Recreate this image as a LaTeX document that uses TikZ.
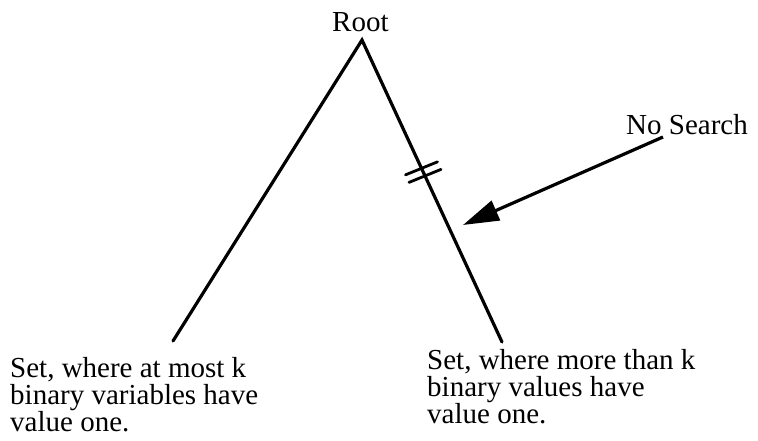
\documentclass[tikz,border=0pt]{standalone}
\usepackage{fontspec}
\setmainfont{Liberation Serif}
\usetikzlibrary{arrows.meta}
\usetikzlibrary{calc}
\tikzset{
	branch/.style = {
		line width=3.2pt,
		line cap=round
	},
	cutmark/.style = {
		line width=2.8pt,
		line cap=round
	},
	pointer/.style = {
		line width=3.2pt,
		-{Triangle[length=36pt,width=21pt]}
	},
	caption/.style = {
		align=left,
		inner sep=0pt,
		font=\fontsize{29}{27}\selectfont
	},
	label_s/.style = {
		inner sep=0pt,
		anchor=base west,
		font=\fontsize{29}{27}\selectfont
	},
}

\begin{document}
\begin{tikzpicture}[x=1pt,y=-1pt]
\useasboundingbox (0,0) rectangle (758,441);
\node [label_s] (root) at (332,32) {Root};
\coordinate (apex) at (362,40);
\coordinate (leafl) at (173,341);
\coordinate (leafr) at (502,342);
\draw [branch] (leafl) -- (apex) -- (leafr);
% cut on the right branch
\coordinate (cut1) at ($(apex)!0.425!(leafr)$);
\coordinate (cut2) at ($(apex)!0.45!(leafr)$);
\draw [cutmark] ($(cut1)+(-16,6.5)$) -- ($(cut1)+(16,-6.5)$);
\draw [cutmark] ($(cut2)+(-16,6.5)$) -- ($(cut2)+(16,-6.5)$);
\node [label_s] (nosearch) at (626,135) {No Search};
\coordinate (tail) at (663,137);
\coordinate (tip) at (463,225);
\draw [pointer] (tail) -- (tip);
\node [caption, anchor=north west] (setl) at (10,357) {Set, where at most k\\binary variables have\\value one.};
\node [caption, anchor=north west] (setr) at (427,349) {Set, where more than k\\binary values have\\value one.};
\end{tikzpicture}
\end{document}
